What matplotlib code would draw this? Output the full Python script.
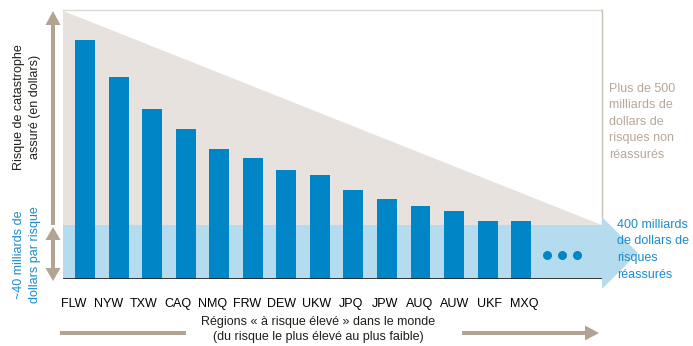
import numpy as np
import matplotlib
matplotlib.use("Agg")
import matplotlib.pyplot as plt
from matplotlib.patches import Polygon, FancyArrow

plt.rcParams['font.family'] = ['Liberation Sans', 'DejaVu Sans']

regions = ["FLW", "NYW", "TXW", "CAQ", "NMQ", "FRW", "DEW", "UKW",
           "JPQ", "JPW", "AUQ", "AUW", "UKF", "MXQ"]
risk = [177, 150, 126, 111, 96.5, 90, 81, 77, 66, 59, 54, 50.5, 43, 43]
retention = 40      # ~40 milliards de dollars par risque
risk_max = 199      # top of the uninsured triangle

BLUE = "#0086c6"
LIGHT_BLUE = "#b4dcee"
SAND = "#e7e2de"
TAUPE = "#b2a393"
TEXT_BLUE = "#1c8bcb"
TEXT_TAUPE = "#b5a899"

W, H = 693, 346
fig = plt.figure(figsize=(W / 100, H / 100), dpi=100)

# main chart area, in pixel bounds of the reference
x0, x1, y_top, y_base = 63, 602, 9.5, 279
ax = fig.add_axes([x0 / W, (H - y_base) / H, (x1 - x0) / W, (y_base - y_top) / H])
n = len(regions)
idx = np.arange(n)
xmin, xmax = -0.656, 15.41
ax.set_xlim(xmin, xmax)
ax.set_ylim(0, 200)

# uninsured triangle and reinsured band
ax.add_patch(Polygon([(xmin, risk_max), (xmax, retention), (xmin, retention)],
                     closed=True, color=SAND, lw=0, zorder=0))
ax.axhspan(0, retention, color=LIGHT_BLUE, lw=0, zorder=1)

ax.bar(idx, risk, width=0.596, color=BLUE, zorder=2)

# "..." after the last region
ax.scatter(n - 1 + np.array([0.78, 1.22, 1.67]), [17.8] * 3, s=42, color=BLUE, zorder=3, lw=0)

ax.axhline(0, color="#2a2520", lw=2, zorder=4)
ax.plot([xmax, xmax], [retention, 200], color="#c9bfb5", lw=1, clip_on=False, zorder=4)
for s in ["left", "right", "bottom"]:
    ax.spines[s].set_visible(False)
ax.spines["top"].set_color("#dcd8d4")
ax.spines["top"].set_linewidth(1)

tick_pos = np.linspace(-0.328, 13.08, n)
ax.set_xticks(tick_pos, regions, fontsize=9)
ax.tick_params(axis="x", length=0, pad=13.5)
ax.set_yticks([])

# overlay in pixel coordinates for arrows and side text
ov = fig.add_axes([0, 0, 1, 1], zorder=5)
ov.set_xlim(0, W)
ov.set_ylim(H, 0)
ov.axis("off")
ov.patch.set_alpha(0)

# arrow head of the reinsured band
ov.add_patch(Polygon([(602, 217), (638, 253), (602, 289)], closed=True,
                     color=LIGHT_BLUE, lw=0, zorder=1))

# left arrows
ov.add_patch(FancyArrow(53, 225, 0, -214, width=4, head_width=15, head_length=14,
                        length_includes_head=True, color=TAUPE, lw=0))
ov.add_patch(FancyArrow(53, 254, 0, -27, width=4, head_width=15, head_length=13,
                        length_includes_head=True, color=TAUPE, lw=0))
ov.add_patch(FancyArrow(53, 254, 0, 27, width=4, head_width=15, head_length=13,
                        length_includes_head=True, color=TAUPE, lw=0))

# bottom arrows
ov.add_patch(FancyArrow(60, 333, 126, 0, width=4, head_width=4, head_length=0,
                        color=TAUPE, lw=0))
ov.add_patch(FancyArrow(462, 333, 137, 0, width=4, head_width=15, head_length=14,
                        length_includes_head=True, color=TAUPE, lw=0))

ov.text(27, 107, "Risque de catastrophe\nassuré (en dollars)", rotation=90,
        ha="center", va="center", ma="center", fontsize=9, linespacing=1.45, color="#231f1a")
ov.text(27, 255, "~40 milliards de\ndollars par risque", rotation=90,
        ha="center", va="center", ma="center", fontsize=9, linespacing=1.45, color=TEXT_BLUE)

ov.text(609, 83, "Plus de 500\nmilliards de\ndollars de\nrisques non\nréassurés",
        ha="left", va="top", fontsize=9, linespacing=1.5, color=TEXT_TAUPE)
ov.text(617, 219, "400 milliards\nde dollars de\nrisques\nréassurés",
        ha="left", va="top", fontsize=9, linespacing=1.5, color=TEXT_BLUE, zorder=3)

ov.text(318, 316, "Régions « à risque élevé » dans le monde\n(du risque le plus élevé au plus faible)",
        ha="center", va="top", ma="center", fontsize=9, linespacing=1.3, color="#231f1a")

fig.savefig("out.png", dpi=100)
